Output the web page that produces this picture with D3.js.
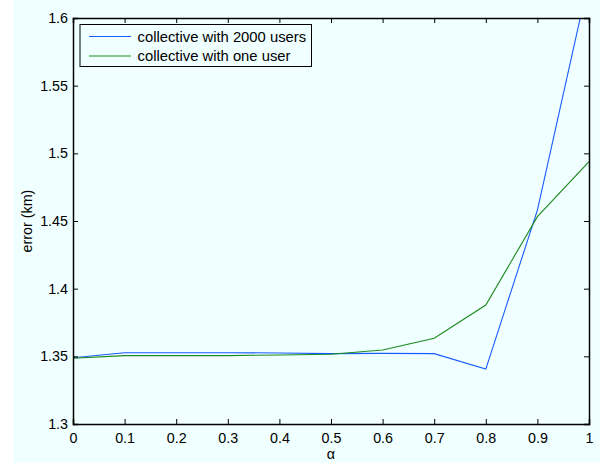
<!DOCTYPE html>
<html>
<head>
<meta charset="utf-8">
<script src="https://cdn.jsdelivr.net/npm/d3@7"></script>
<style>
  html, body { margin: 0; padding: 0; background: #ffffff; }
  svg { display: block; }
  text { font-family: "Liberation Sans", Arial, Helvetica, sans-serif; fill: #000; }
</style>
</head>
<body>
<svg id="chart" width="605" height="464"></svg>
<script>
// Error versus alpha for the two collective settings
const alphas = [0, 0.1, 0.2, 0.3, 0.4, 0.5, 0.6, 0.7, 0.8, 0.9, 1.0];
const users2000 = [1.349, 1.3527, 1.3527, 1.3527, 1.3525, 1.352, 1.3522, 1.352, 1.3406, 1.458, 1.629];
const oneUser   = [1.3486, 1.3505, 1.3505, 1.3505, 1.351, 1.3515, 1.3547, 1.3633, 1.3879, 1.4532, 1.4938];
const seriesNames = ["collective with 2000 users", "collective with one user"];
const seriesColors = ["#1a5cff", "#1e8a1e"];
const xTicks = [0, 0.1, 0.2, 0.3, 0.4, 0.5, 0.6, 0.7, 0.8, 0.9, 1];
const yTicks = [1.3, 1.35, 1.4, 1.45, 1.5, 1.55, 1.6];

const svg = d3.select("#chart");
const padL = 73, padR = 589, padT = 18, padB = 424;
const bg = "#f0ffff";

// figure background
svg.append("rect").attr("x", 13).attr("y", 0).attr("width", 587).attr("height", 463)
  .attr("fill", bg);

const x = d3.scaleLinear().domain([0, 1]).range([padL, padR]);
const y = d3.scaleLinear().domain([1.3, 1.6]).range([padB, padT]);

svg.append("defs").append("clipPath").attr("id", "plotclip")
  .append("rect").attr("x", padL).attr("y", padT)
  .attr("width", padR - padL).attr("height", padB - padT);

// data lines
const line = d3.line().x((d, i) => x(alphas[i])).y(d => y(d));
const plot = svg.append("g").attr("clip-path", "url(#plotclip)");
[users2000, oneUser].forEach((vals, k) => {
  plot.append("path").datum(vals)
    .attr("d", line)
    .attr("fill", "none")
    .attr("stroke", seriesColors[k])
    .attr("stroke-width", 1.1);
});

// axes with inward ticks on all four sides
const fmt = d => String(+d.toFixed(2));
const tickFont = 14.3, legendFont = 14.8;
const axB = d3.axisBottom(x).tickValues(xTicks).tickSize(-5).tickPadding(9).tickFormat(fmt);
const axT = d3.axisTop(x).tickValues(xTicks).tickSize(-5).tickFormat("");
const axL = d3.axisLeft(y).tickValues(yTicks).tickSize(-5).tickPadding(5).tickFormat(fmt);
const axR = d3.axisRight(y).tickValues(yTicks).tickSize(-5).tickFormat("");

function style(g) {
  g.selectAll("path.domain").attr("stroke", "#000").attr("stroke-width", 1.5);
  g.selectAll(".tick line").attr("stroke", "#000").attr("stroke-width", 1);
  g.selectAll(".tick text").attr("font-size", tickFont).attr("fill", "#000")
    .style("font-family", "'Liberation Sans', Arial, sans-serif");
  g.attr("font-family", null).attr("font-size", null);
}
svg.append("g").attr("transform", `translate(0,${padB})`).call(axB).call(style);
svg.append("g").attr("transform", `translate(0,${padT})`).call(axT).call(style);
svg.append("g").attr("transform", `translate(${padL},0)`).call(axL).call(style);
svg.append("g").attr("transform", `translate(${padR},0)`).call(axR).call(style);

// axis titles
svg.append("text").attr("x", (padL + padR) / 2).attr("y", 459)
  .attr("text-anchor", "middle").attr("font-size", tickFont).text("α");
svg.append("text")
  .attr("transform", `translate(32,${(padT + padB) / 2}) rotate(-90)`)
  .attr("text-anchor", "middle").attr("font-size", tickFont).text("error (km)");

// legend
const lg = svg.append("g");
lg.append("rect").attr("x", 80).attr("y", 24.5).attr("width", 231.5).attr("height", 42)
  .attr("fill", bg).attr("stroke", "#000").attr("stroke-width", 1);
seriesNames.forEach((name, k) => {
  const cy = 36.5 + k * 19.5;
  lg.append("line").attr("x1", 89).attr("x2", 131).attr("y1", cy).attr("y2", cy)
    .attr("stroke", seriesColors[k]).attr("stroke-width", 1.1);
  lg.append("text").attr("x", 137.5).attr("y", cy + 5.2).attr("font-size", legendFont).text(name);
});
</script>
</body>
</html>
